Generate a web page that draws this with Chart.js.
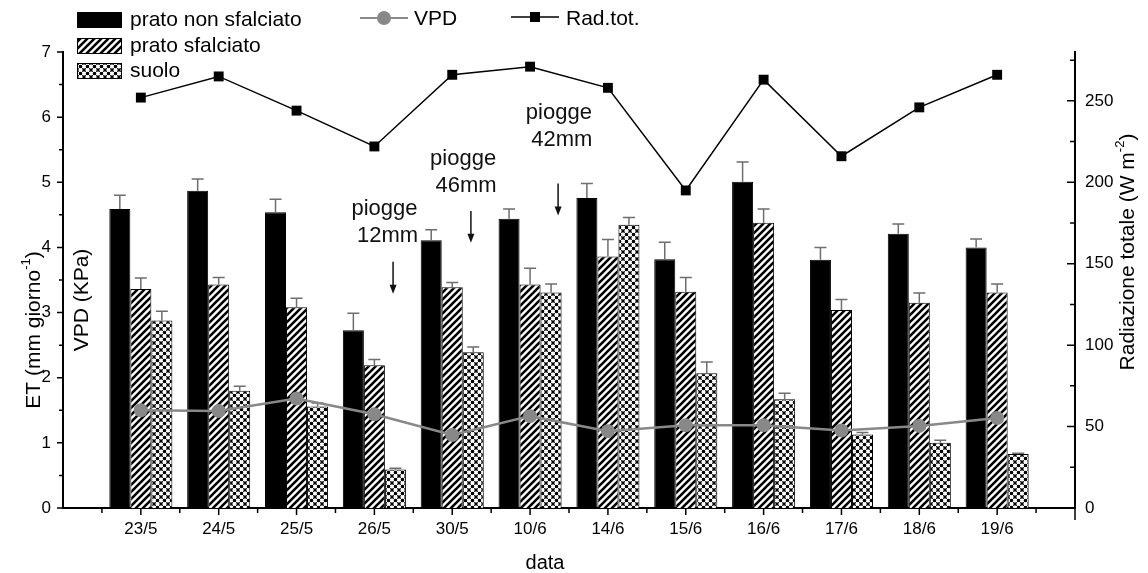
<!DOCTYPE html>
<html>
<head>
<meta charset="utf-8">
<script src="https://cdn.jsdelivr.net/npm/chart.js@4.4.1/dist/chart.umd.min.js"></script>
<style>
  body { margin: 0; background: #fff; }
  #wrap { width: 1148px; height: 573px; }
</style>
</head>
<body>
<div id="wrap"><canvas id="myChart" width="1148" height="573"></canvas></div>
<script>
var dates = ['23/5', '24/5', '25/5', '26/5', '30/5', '10/6', '14/6', '15/6', '16/6', '17/6', '18/6', '19/6'];

// ET (mm giorno-1) and standard errors
var pratoNonSfalciato    = [4.59, 4.87, 4.54, 2.73, 4.11, 4.44, 4.76, 3.82, 5.01, 3.81, 4.21, 4.00];
var pratoNonSfalciatoErr = [0.21, 0.18, 0.20, 0.26, 0.16, 0.15, 0.22, 0.26, 0.30, 0.19, 0.15, 0.13];
var pratoSfalciato       = [3.36, 3.43, 3.08, 2.19, 3.39, 3.43, 3.86, 3.32, 4.38, 3.04, 3.15, 3.31];
var pratoSfalciatoErr    = [0.17, 0.11, 0.14, 0.09, 0.07, 0.25, 0.26, 0.22, 0.21, 0.16, 0.15, 0.13];
var suolo                = [2.88, 1.80, 1.56, 0.59, 2.39, 3.31, 4.35, 2.07, 1.67, 1.13, 1.00, 0.83];
var suoloErr             = [0.14, 0.07, 0.05, 0.02, 0.08, 0.13, 0.11, 0.17, 0.09, 0.03, 0.04, 0.01];

// VPD (KPa) on the left axis, total radiation (W m-2) on the right axis
var vpd    = [1.50, 1.49, 1.68, 1.44, 1.12, 1.41, 1.18, 1.27, 1.27, 1.19, 1.26, 1.38];
var radTot = [252, 265, 244, 222, 266, 271, 258, 195, 263, 216, 246, 266];

// rain notes: x in category units, y in ET units
var piogge = [
  { mm: '12mm', x: 4.24, xTesto: 4.13, yTesto: 4.59, yDa: 3.78, yA: 3.29 },
  { mm: '46mm', x: 5.24, xTesto: 5.14, yTesto: 5.36, yDa: 4.56, yA: 4.07 },
  { mm: '42mm', x: 6.36, xTesto: 6.37, yTesto: 6.06, yDa: 4.98, yA: 4.49 }
];

var FONT = "'Liberation Sans', Arial, sans-serif";

// one empty slot each side so the axis runs half a step past the first/last date
function pad(a) { return [null].concat(a, [null]); }
var etichette = [''].concat(dates, ['']);

function hatchPattern() {
  var s = 7;
  var c = document.createElement('canvas');
  c.width = s; c.height = s;
  var g = c.getContext('2d');
  g.fillStyle = '#fff';
  g.fillRect(0, 0, s, s);
  g.strokeStyle = '#000';
  g.lineWidth = 2.6;
  g.beginPath();
  for (var k = -1; k <= 1; k++) {
    g.moveTo(k * s - 1, s + 1);
    g.lineTo(k * s + s + 1, -1);
  }
  g.stroke();
  return g.createPattern(c, 'repeat');
}

function dotPattern() {
  var s = 7;
  var c = document.createElement('canvas');
  c.width = s; c.height = s;
  var g = c.getContext('2d');
  g.fillStyle = '#fff';
  g.fillRect(0, 0, s, s);
  g.strokeStyle = '#333';
  g.lineWidth = 1;
  g.beginPath();
  g.moveTo(0, 0); g.lineTo(s, s);
  g.moveTo(0, s); g.lineTo(s, 0);
  g.stroke();
  g.fillStyle = '#000';
  [[0, 0], [s, 0], [0, s], [s, s], [s / 2, s / 2]].forEach(function (p) {
    g.beginPath();
    g.arc(p[0], p[1], 1.7, 0, Math.PI * 2);
    g.fill();
  });
  return g.createPattern(c, 'repeat');
}

var hatch = hatchPattern();
var dots = dotPattern();

// upward error bars, drawn right after each bar series
var erroriPlugin = {
  id: 'errori',
  afterDatasetDraw: function (chart, args) {
    var ds = chart.data.datasets[args.index];
    if (!ds.errori) return;
    var ctx = chart.ctx, y = chart.scales.y;
    ctx.save();
    ctx.strokeStyle = '#6e6e6e';
    ctx.lineWidth = 1.5;
    args.meta.data.forEach(function (bar, i) {
      var v = ds.data[i];
      if (v == null) return;
      var top = y.getPixelForValue(v + ds.errori[i]);
      ctx.beginPath();
      ctx.moveTo(bar.x, bar.y);
      ctx.lineTo(bar.x, top);
      ctx.moveTo(bar.x - 6, top);
      ctx.lineTo(bar.x + 6, top);
      ctx.stroke();
    });
    ctx.restore();
  }
};

function testoRuotato(ctx, x, y, parti, size) {
  ctx.save();
  ctx.translate(x, y);
  ctx.rotate(-Math.PI / 2);
  var supSize = Math.round(size * 0.62);
  var tot = 0;
  parti.forEach(function (p) {
    ctx.font = (p.sup ? supSize : size) + 'px ' + FONT;
    p.w = ctx.measureText(p.t).width;
    tot += p.w;
  });
  var cx = -tot / 2;
  ctx.fillStyle = '#000';
  ctx.textBaseline = 'middle';
  ctx.textAlign = 'left';
  parti.forEach(function (p) {
    ctx.font = (p.sup ? supSize : size) + 'px ' + FONT;
    ctx.fillText(p.t, cx, p.sup ? -size * 0.38 : 0);
    cx += p.w;
  });
  ctx.restore();
}

var decorPlugin = {
  id: 'decor',
  afterDraw: function (chart) {
    var ctx = chart.ctx, a = chart.chartArea;
    var x = chart.scales.x, y = chart.scales.y, y1 = chart.scales.y1;
    var i, p, v;
    ctx.save();
    ctx.strokeStyle = '#000';
    ctx.lineWidth = 1.5;
    ctx.beginPath();
    // x ticks: dates and the gaps between them
    for (i = 1; i <= dates.length; i++) {
      p = x.getPixelForValue(i);
      ctx.moveTo(p, a.bottom); ctx.lineTo(p, a.bottom + 7);
    }
    for (i = 0; i <= dates.length; i++) {
      p = x.getPixelForValue(i + 0.5);
      ctx.moveTo(p, a.bottom); ctx.lineTo(p, a.bottom + 5);
    }
    // left axis ticks point outwards
    for (v = 0; v <= 7; v += 0.5) {
      p = y.getPixelForValue(v);
      ctx.moveTo(a.left, p); ctx.lineTo(a.left - (v % 1 === 0 ? 6 : 4), p);
    }
    // right axis ticks point into the plot
    for (v = 0; v <= 275; v += 25) {
      p = y1.getPixelForValue(v);
      ctx.moveTo(a.right, p); ctx.lineTo(a.right - (v % 50 === 0 ? 8 : 5), p);
    }
    ctx.moveTo(a.right, a.bottom); ctx.lineTo(a.right, a.bottom + 12);
    ctx.stroke();

    // axis titles
    testoRuotato(ctx, 34, 330, [{ t: 'ET (mm giorno' }, { t: '-1', sup: true }, { t: ')' }], 21);
    testoRuotato(ctx, 82, 300, [{ t: 'VPD (KPa)' }], 21);
    testoRuotato(ctx, 1128, 252, [{ t: 'Radiazione totale (W m' }, { t: '-2', sup: true }, { t: ')' }], 21);
    ctx.fillStyle = '#000';
    ctx.font = '20px ' + FONT;
    ctx.textAlign = 'center';
    ctx.textBaseline = 'middle';
    ctx.fillText('data', (a.left + a.right) / 2 - 24, 563);

    // rain notes with arrows
    ctx.font = '22px ' + FONT;
    piogge.forEach(function (r) {
      var tx = x.getPixelForValue(r.xTesto), ty = y.getPixelForValue(r.yTesto);
      ctx.fillStyle = '#111';
      ctx.fillText('piogge', tx, ty);
      ctx.fillText(r.mm, tx + 3, ty + 27);
      var ax = x.getPixelForValue(r.x), y0 = y.getPixelForValue(r.yDa), y2 = y.getPixelForValue(r.yA);
      ctx.lineWidth = 1.5;
      ctx.strokeStyle = '#111';
      ctx.beginPath();
      ctx.moveTo(ax, y0); ctx.lineTo(ax, y2 - 6);
      ctx.stroke();
      ctx.beginPath();
      ctx.moveTo(ax - 3.5, y2 - 9); ctx.lineTo(ax + 3.5, y2 - 9); ctx.lineTo(ax, y2);
      ctx.closePath();
      ctx.fill();
    });

    // legend
    var righe = [
      { testo: 'prato non sfalciato', fill: '#000', y: 20 },
      { testo: 'prato sfalciato', fill: hatch, y: 46 },
      { testo: 'suolo', fill: dots, y: 71 }
    ];
    ctx.font = '21px ' + FONT;
    ctx.textAlign = 'left';
    righe.forEach(function (r) {
      ctx.fillStyle = r.fill;
      ctx.fillRect(77, r.y - 8, 45, 16);
      ctx.lineWidth = 1;
      ctx.strokeStyle = '#000';
      ctx.strokeRect(77.5, r.y - 7.5, 44, 15);
      ctx.fillStyle = '#000';
      ctx.fillText(r.testo, 130, r.y);
    });
    ctx.strokeStyle = '#888';
    ctx.lineWidth = 2;
    ctx.beginPath();
    ctx.moveTo(360, 18); ctx.lineTo(408, 18);
    ctx.stroke();
    ctx.fillStyle = '#888';
    ctx.beginPath();
    ctx.arc(384, 18, 7, 0, Math.PI * 2);
    ctx.fill();
    ctx.fillStyle = '#000';
    ctx.fillText('VPD', 414, 19);
    ctx.strokeStyle = '#000';
    ctx.lineWidth = 1.5;
    ctx.beginPath();
    ctx.moveTo(511, 17); ctx.lineTo(559, 17);
    ctx.stroke();
    ctx.fillRect(530, 12, 10, 10);
    ctx.fillText('Rad.tot.', 566, 19);
    ctx.restore();
  }
};

var tickFont = { family: FONT, size: 17 };

var ctx = document.getElementById('myChart').getContext('2d');
var myChart = new Chart(ctx, {
  type: 'bar',
  data: {
    labels: etichette,
    datasets: [
      {
        type: 'line', label: 'VPD', data: pad(vpd), yAxisID: 'y',
        borderColor: '#888', backgroundColor: '#888', borderWidth: 2.5,
        pointRadius: 7, pointStyle: 'circle', pointBorderWidth: 0, order: 0
      },
      {
        type: 'line', label: 'Rad.tot.', data: pad(radTot), yAxisID: 'y1',
        borderColor: '#000', backgroundColor: '#000', borderWidth: 1.5,
        pointRadius: 7, pointStyle: 'rect', pointBorderWidth: 0, order: 0
      },
      {
        label: 'prato non sfalciato', data: pad(pratoNonSfalciato), errori: pad(pratoNonSfalciatoErr),
        backgroundColor: '#000', borderColor: '#000', borderWidth: 1, yAxisID: 'y', order: 1
      },
      {
        label: 'prato sfalciato', data: pad(pratoSfalciato), errori: pad(pratoSfalciatoErr),
        backgroundColor: hatch, borderColor: '#000', borderWidth: 1, yAxisID: 'y', order: 1
      },
      {
        label: 'suolo', data: pad(suolo), errori: pad(suoloErr),
        backgroundColor: dots, borderColor: '#000', borderWidth: 1, yAxisID: 'y', order: 1
      }
    ]
  },
  options: {
    responsive: false,
    animation: false,
    layout: { padding: { top: 52 } },
    plugins: { legend: { display: false }, tooltip: { enabled: false } },
    datasets: { bar: { barPercentage: 1, categoryPercentage: 0.81 } },
    scales: {
      x: {
        offset: false,
        grid: { display: false, drawTicks: false },
        border: { color: '#000', width: 2 },
        ticks: { autoSkip: false, maxRotation: 0, padding: 11, color: '#000', font: tickFont },
        afterFit: function (s) { s.height = 65; }
      },
      y: {
        position: 'left', min: 0, max: 7,
        grid: { display: false, drawTicks: false },
        border: { color: '#000', width: 2 },
        ticks: { stepSize: 1, padding: 12, color: '#000', font: tickFont },
        afterFit: function (s) { s.width = 63; }
      },
      y1: {
        position: 'right', min: 0, max: 280,
        grid: { display: false, drawTicks: false },
        border: { color: '#000', width: 2 },
        ticks: { stepSize: 50, includeBounds: false, padding: 10, color: '#000', font: tickFont },
        afterFit: function (s) { s.width = 73; }
      }
    }
  },
  plugins: [erroriPlugin, decorPlugin]
});
</script>
</body>
</html>
